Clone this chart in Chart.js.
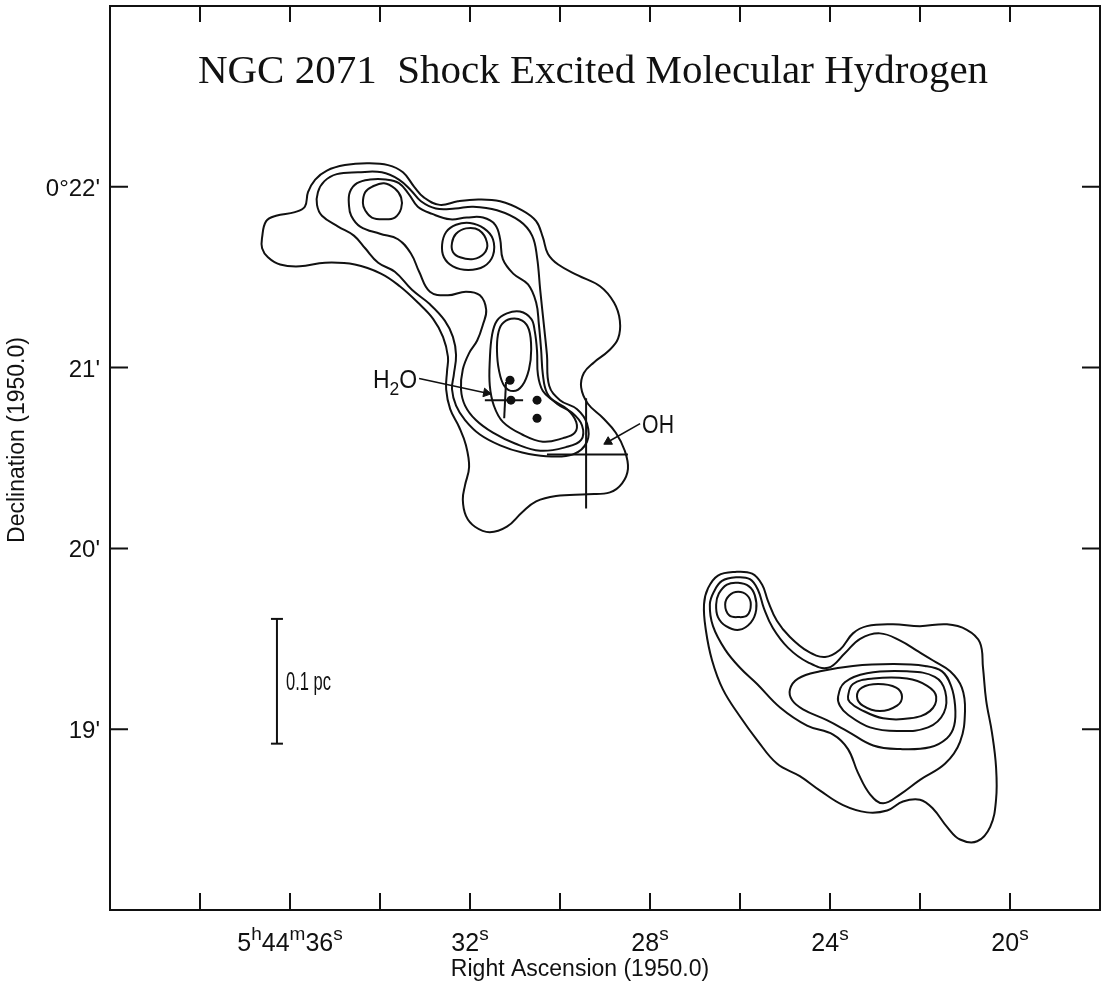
<!DOCTYPE html>
<html>
<head>
<meta charset="utf-8">
<title>NGC 2071 Shock Excited Molecular Hydrogen</title>
<script src="https://cdn.jsdelivr.net/npm/chart.js@4.4.1/dist/chart.umd.min.js"></script>
<style>
  html, body { margin: 0; padding: 0; background: #fff; }
  #map { display: block; }
</style>
</head>
<body>
<canvas id="map" width="1101" height="985"></canvas>
<script>
// x = right ascension, seconds past 5h44m (1950.0)
// y = declination, arcminutes past 0 deg (1950.0)
var raTicks = [38, 36, 34, 32, 30, 28, 26, 24, 22, 20];
var raLabelValues = [36, 32, 28, 24, 20];
var raLabels = ['5^h44^m36^s', '32^s', '28^s', '24^s', '20^s'];
var decTicks = [22, 21, 20, 19];
var decLabels = ["0\u00b022'", "21'", "20'", "19'"];

// North-west complex, outer to inner contours
var nwLevel1 = [[36.62,21.72],[36.53,21.81],[36.31,21.84],[35.89,21.86],[35.67,21.89],[35.60,21.97],[35.44,22.04],[35.18,22.09],[34.78,22.12],[34.29,22.13],[33.82,22.12],[33.49,22.08],[33.24,22.00],[33.02,21.94],[32.67,21.90],[32.27,21.92],[31.82,21.93],[31.33,21.92],[30.84,21.87],[30.53,21.81],[30.38,21.72],[30.27,21.63],[30.04,21.57],[29.60,21.51],[29.11,21.45],[28.80,21.36],[28.67,21.26],[28.71,21.16],[28.93,21.09],[29.24,21.03],[29.47,20.97],[29.53,20.89],[29.38,20.80],[29.04,20.72],[28.76,20.64],[28.56,20.54],[28.49,20.44],[28.62,20.36],[28.89,20.31],[29.38,20.30],[30.09,20.29],[30.53,20.26],[30.84,20.20],[31.18,20.12],[31.56,20.09],[31.89,20.12],[32.09,20.18],[32.16,20.27],[32.11,20.35],[32.02,20.45],[32.09,20.57],[32.24,20.67],[32.44,20.77],[32.53,20.88],[32.51,20.98],[32.49,21.06],[32.60,21.17],[32.82,21.27],[33.16,21.36],[33.56,21.45],[33.98,21.52],[34.56,21.57],[35.22,21.58],[35.78,21.56],[36.22,21.57],[36.49,21.61],[36.62,21.66]];
var nwLevel2 = [[35.40,21.90],[35.38,21.97],[35.24,22.03],[34.96,22.07],[34.49,22.08],[33.96,22.08],[33.58,22.04],[33.31,21.98],[33.09,21.92],[32.76,21.88],[32.33,21.88],[31.93,21.89],[31.40,21.87],[30.89,21.81],[30.62,21.73],[30.51,21.61],[30.44,21.43],[30.36,21.24],[30.29,21.07],[30.24,20.90],[30.00,20.82],[29.62,20.77],[29.40,20.69],[29.40,20.59],[29.71,20.52],[30.31,20.51],[30.84,20.53],[31.33,20.57],[31.78,20.63],[32.11,20.71],[32.31,20.79],[32.40,20.88],[32.36,20.96],[32.31,21.07],[32.38,21.17],[32.56,21.26],[32.89,21.35],[33.29,21.43],[33.67,21.53],[34.04,21.58],[34.33,21.66],[34.58,21.73],[34.93,21.78],[35.29,21.84]];
var nwLevel3 = [[34.69,21.90],[34.67,21.97],[34.51,22.02],[34.22,22.04],[33.87,22.04],[33.58,22.02],[33.36,21.96],[33.16,21.89],[32.84,21.85],[32.44,21.82],[32.07,21.83],[31.71,21.83],[31.44,21.79],[31.33,21.71],[31.27,21.60],[31.04,21.52],[30.71,21.46],[30.53,21.36],[30.47,21.24],[30.42,21.10],[30.38,20.96],[30.29,20.86],[30.07,20.80],[29.73,20.75],[29.51,20.68],[29.53,20.60],[29.87,20.56],[30.44,20.54],[31.00,20.58],[31.49,20.64],[31.87,20.71],[32.11,20.79],[32.20,20.88],[32.16,20.99],[32.02,21.08],[31.84,21.15],[31.71,21.24],[31.64,21.32],[31.78,21.40],[32.09,21.42],[32.49,21.40],[32.89,21.42],[33.13,21.53],[33.31,21.63],[33.60,21.71],[34.00,21.74],[34.44,21.78],[34.64,21.84]];
var nwPeakA = [[34.38,21.91],[34.33,21.97],[34.18,22.00],[33.91,22.02],[33.67,21.99],[33.53,21.94],[33.53,21.88],[33.67,21.83],[33.91,21.82],[34.18,21.83],[34.33,21.87]];
var nwPeakBOuter = [[32.62,21.68],[32.53,21.75],[32.31,21.79],[32.00,21.80],[31.69,21.77],[31.49,21.71],[31.49,21.62],[31.69,21.56],[32.04,21.54],[32.38,21.56],[32.58,21.61]];
var nwPeakBInner = [[32.40,21.69],[32.31,21.74],[32.09,21.77],[31.80,21.76],[31.62,21.69],[31.69,21.63],[31.93,21.60],[32.22,21.61],[32.38,21.64]];
var nwCore = [[31.51,21.18],[31.40,21.26],[31.18,21.30],[30.89,21.31],[30.64,21.27],[30.56,21.20],[30.51,21.09],[30.49,20.96],[30.38,20.87],[30.16,20.82],[29.84,20.77],[29.64,20.70],[29.67,20.64],[29.93,20.61],[30.38,20.59],[30.84,20.63],[31.27,20.70],[31.47,20.79],[31.56,20.90],[31.56,21.04]];
var nwCoreInner = [[31.38,21.18],[31.29,21.24],[31.09,21.27],[30.84,21.26],[30.69,21.21],[30.64,21.10],[30.69,20.99],[30.84,20.90],[31.04,20.87],[31.24,20.90],[31.36,20.99],[31.40,21.09]];

// South-east complex
var seLevel1 = [[26.80,19.69],[26.76,19.55],[26.62,19.38],[26.38,19.22],[26.00,19.07],[25.62,18.94],[25.18,18.81],[24.67,18.74],[24.22,18.66],[23.71,18.58],[23.18,18.54],[22.73,18.55],[22.38,18.60],[22.00,18.61],[21.71,18.56],[21.40,18.46],[21.11,18.39],[20.73,18.38],[20.44,18.46],[20.31,18.61],[20.31,18.79],[20.40,18.98],[20.53,19.16],[20.60,19.34],[20.67,19.48],[20.96,19.55],[21.40,19.58],[22.00,19.57],[22.60,19.58],[23.18,19.57],[23.49,19.53],[23.78,19.44],[24.11,19.40],[24.49,19.43],[24.89,19.51],[25.18,19.60],[25.38,19.71],[25.51,19.80],[25.73,19.86],[26.11,19.87],[26.49,19.85],[26.71,19.78]];
var seLevel2 = [[26.67,19.69],[26.60,19.57],[26.33,19.44],[26.00,19.34],[25.62,19.25],[25.11,19.12],[24.51,19.02],[23.93,18.97],[23.60,18.89],[23.38,18.76],[23.11,18.64],[22.82,18.59],[22.44,18.64],[22.00,18.72],[21.44,18.81],[21.11,18.93],[21.00,19.10],[21.07,19.23],[21.33,19.32],[21.71,19.38],[22.04,19.43],[22.44,19.49],[22.89,19.53],[23.33,19.50],[23.67,19.42],[24.04,19.34],[24.49,19.37],[24.93,19.45],[25.27,19.56],[25.47,19.67],[25.60,19.77],[25.78,19.83],[26.09,19.84],[26.40,19.82],[26.58,19.76]];
var seLevel3 = [[24.89,19.22],[24.71,19.28],[24.22,19.32],[23.49,19.35],[22.60,19.36],[21.89,19.35],[21.51,19.32],[21.31,19.24],[21.22,19.13],[21.24,19.02],[21.40,18.95],[21.78,18.90],[22.44,18.89],[23.04,18.91],[23.62,18.99],[24.07,19.05],[24.60,19.11],[24.84,19.16]];
var seKnobOuter = [[26.53,19.69],[26.47,19.75],[26.29,19.80],[26.04,19.81],[25.80,19.79],[25.67,19.74],[25.64,19.66],[25.76,19.59],[26.02,19.55],[26.31,19.57],[26.49,19.62]];
var seKnobInner = [[26.33,19.69],[26.24,19.74],[26.04,19.76],[25.84,19.74],[25.76,19.69],[25.84,19.63],[26.04,19.62],[26.24,19.63]];
var seCore3 = [[23.82,19.18],[23.67,19.26],[23.18,19.31],[22.29,19.32],[21.67,19.29],[21.44,19.21],[21.47,19.09],[21.82,19.01],[22.51,18.99],[23.11,19.01],[23.60,19.08],[23.78,19.13]];
var seCore2 = [[23.60,19.18],[23.49,19.25],[23.04,19.28],[22.29,19.28],[21.84,19.24],[21.64,19.18],[21.78,19.10],[22.22,19.06],[22.82,19.06],[23.33,19.11],[23.56,19.15]];
var seCore1 = [[23.40,19.18],[23.29,19.23],[22.93,19.25],[22.53,19.23],[22.40,19.18],[22.51,19.13],[22.89,19.10],[23.27,19.13]];

// Maser positions and markers
var maserDots = [[31.11,20.93],[31.09,20.82],[30.51,20.82],[30.51,20.72]];
var h2oCrossH = [[31.67,20.82],[30.82,20.82]];
var h2oCrossV = [[31.20,20.92],[31.24,20.72]];
var ohCrossH = [[30.29,20.52],[28.49,20.52]];
var ohCrossV = [[29.42,20.83],[29.42,20.22]];
var h2oArrow = [[33.13,20.94],[31.64,20.86]];
var ohArrow = [[28.22,20.69],[28.93,20.59]];
var scaleBar = [[36.29,19.61],[36.29,18.92]];

var ink = '#111';
var sans = "'Liberation Sans', Arial, sans-serif";

function xy(list) {
  return list.map(function (p) { return { x: p[0], y: p[1] }; });
}

// closed contour: pad with neighbours so the spline is smooth at the seam,
// and hide the two padding segments
function loop(pts) {
  var n = pts.length;
  var data = xy([pts[n - 1]].concat(pts, [pts[0], pts[1]]));
  var lastSeg = data.length - 2;
  return {
    data: data,
    showLine: true,
    borderColor: ink,
    borderWidth: 2,
    pointRadius: 0,
    tension: 0.4,
    segment: {
      borderColor: function (c) {
        return (c.p0DataIndex === 0 || c.p0DataIndex === lastSeg) ? 'rgba(0,0,0,0)' : undefined;
      }
    }
  };
}

function stroke(pts, extra) {
  var ds = {
    data: xy(pts),
    showLine: true,
    borderColor: ink,
    borderWidth: 2,
    pointRadius: 0,
    tension: 0
  };
  for (var k in extra) ds[k] = extra[k];
  return ds;
}

var contours = [nwLevel1, nwLevel2, nwLevel3, nwPeakA, nwPeakBOuter, nwPeakBInner, nwCore, nwCoreInner,
  seLevel1, seLevel2, seLevel3, seKnobOuter, seKnobInner, seCore3, seCore2, seCore1];

var datasets = contours.map(loop);
datasets.push(stroke(h2oCrossH), stroke(h2oCrossV), stroke(ohCrossH), stroke(ohCrossV));
datasets.push(stroke(h2oArrow, {
  borderWidth: 1.6, pointRadius: [0, 5], pointStyle: 'triangle', rotation: [0, 101],
  pointBackgroundColor: ink, pointBorderColor: ink, pointBorderWidth: 1
}));
datasets.push(stroke(ohArrow, {
  borderWidth: 1.6, pointRadius: [0, 5], pointStyle: 'triangle', rotation: [0, 240],
  pointBackgroundColor: ink, pointBorderColor: ink, pointBorderWidth: 1
}));
datasets.push(stroke(scaleBar, {
  pointRadius: 6, pointStyle: 'line', pointBorderColor: ink, pointBorderWidth: 2
}));
datasets.push({
  data: xy(maserDots),
  showLine: false,
  pointRadius: 4.5,
  pointBackgroundColor: ink,
  pointBorderColor: ink,
  pointBorderWidth: 0
});

// text with ^x superscript and _x subscript characters; squeeze narrows it
function drawRich(ctx, text, x, y, size, align, squeeze) {
  squeeze = squeeze || 1;
  var parts = [];
  for (var i = 0; i < text.length; i++) {
    var ch = text[i];
    if ((ch === '^' || ch === '_') && i + 1 < text.length) {
      parts.push({ t: text[i + 1], shift: ch === '^' ? -1 : 1 });
      i++;
    } else {
      parts.push({ t: ch, shift: 0 });
    }
  }
  var small = Math.round(size * 0.75);
  var w = 0;
  parts.forEach(function (p) {
    ctx.font = (p.shift ? small : size) + 'px ' + sans;
    p.w = ctx.measureText(p.t).width;
    w += p.w;
  });
  w *= squeeze;
  var cx = align === 'center' ? x - w / 2 : (align === 'right' ? x - w : x);
  ctx.save();
  ctx.translate(cx, y);
  ctx.scale(squeeze, 1);
  ctx.textAlign = 'left';
  var ox = 0;
  parts.forEach(function (p) {
    ctx.font = (p.shift ? small : size) + 'px ' + sans;
    var dy = p.shift < 0 ? -size * 0.45 : (p.shift > 0 ? size * 0.25 : 0);
    ctx.fillText(p.t, ox, dy);
    ox += p.w;
  });
  ctx.restore();
}

const framePlugin = {
  id: 'framePlugin',
  afterDraw(chart) {
    const ctx = chart.ctx;
    const a = chart.chartArea;
    const xs = chart.scales.x;
    const ys = chart.scales.y;

    ctx.save();
    ctx.strokeStyle = ink;
    ctx.fillStyle = ink;
    ctx.lineWidth = 2;
    ctx.strokeRect(a.left, a.top, a.right - a.left, a.bottom - a.top);

    // inward ticks on all four sides
    ctx.beginPath();
    raTicks.forEach(function (v) {
      var px = xs.getPixelForValue(v);
      ctx.moveTo(px, a.top); ctx.lineTo(px, a.top + 16);
      ctx.moveTo(px, a.bottom); ctx.lineTo(px, a.bottom - 17);
    });
    decTicks.forEach(function (v) {
      var py = ys.getPixelForValue(v);
      ctx.moveTo(a.left, py); ctx.lineTo(a.left + 18, py);
      ctx.moveTo(a.right, py); ctx.lineTo(a.right - 18, py);
    });
    ctx.stroke();

    // tick labels
    ctx.textBaseline = 'alphabetic';
    raLabelValues.forEach(function (v, i) {
      drawRich(ctx, raLabels[i], xs.getPixelForValue(v), a.bottom + 41, 25, 'center');
    });
    ctx.font = '24px ' + sans;
    ctx.textAlign = 'right';
    decTicks.forEach(function (v, i) {
      ctx.fillText(decLabels[i], a.left - 10, ys.getPixelForValue(v) + 9);
    });

    // axis titles
    ctx.font = '23px ' + sans;
    ctx.textAlign = 'center';
    ctx.fillText('Right Ascension (1950.0)', a.left + 470, a.bottom + 66);
    ctx.save();
    ctx.translate(a.left - 92, a.top + 434);
    ctx.rotate(-Math.PI / 2);
    ctx.textBaseline = 'middle';
    ctx.fillText('Declination (1950.0)', 0, 0);
    ctx.restore();

    // title
    ctx.font = "41px 'Liberation Serif', 'Times New Roman', serif";
    ctx.textAlign = 'center';
    ctx.fillText('NGC 2071  Shock Excited Molecular Hydrogen', a.left + 483, a.top + 77);

    // annotations tied to their markers
    drawRich(ctx, 'H_2O', xs.getPixelForValue(h2oArrow[0][0]) - 2, ys.getPixelForValue(h2oArrow[0][1]) + 10, 25, 'right', 0.92);
    drawRich(ctx, 'OH', xs.getPixelForValue(ohArrow[0][0]) + 2, ys.getPixelForValue(ohArrow[0][1]) + 9, 25, 'left', 0.85);
    drawRich(ctx, '0.1 pc', xs.getPixelForValue(scaleBar[0][0]) + 9,
      (ys.getPixelForValue(scaleBar[0][1]) + ys.getPixelForValue(scaleBar[1][1])) / 2 + 9, 25, 'left', 0.66);
    ctx.restore();
  }
};

new Chart(document.getElementById('map').getContext('2d'), {
  type: 'scatter',
  data: { datasets: datasets },
  options: {
    responsive: false,
    animation: false,
    events: [],
    layout: { autoPadding: false, padding: { left: 110, top: 6, right: 1, bottom: 75 } },
    scales: {
      x: { type: 'linear', min: 18, max: 40, reverse: true, display: false },
      y: { type: 'linear', min: 18, max: 23, display: false }
    },
    plugins: {
      legend: { display: false },
      tooltip: { enabled: false }
    }
  },
  plugins: [framePlugin]
});
</script>
</body>
</html>
